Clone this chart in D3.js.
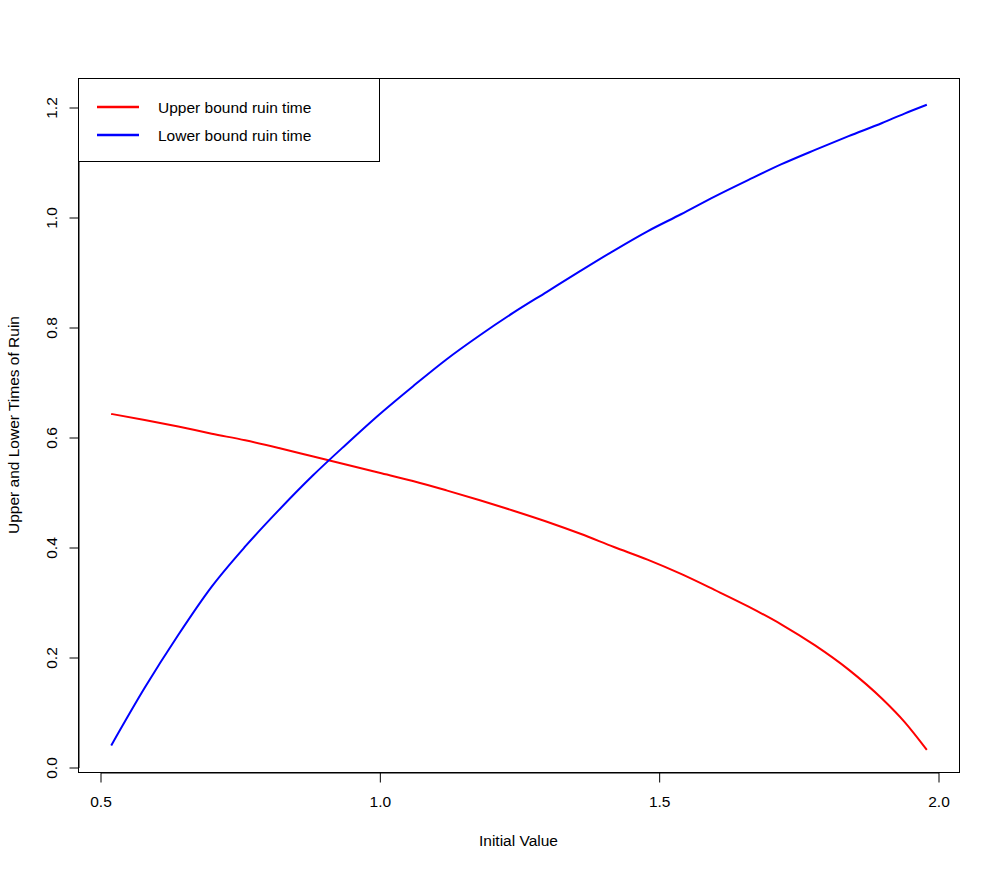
<!DOCTYPE html>
<html lang="en">
<head>
<meta charset="UTF-8">
<title>Upper and Lower Times of Ruin</title>
<script src="https://d3js.org/d3.v7.min.js"></script>
<style>
  body { margin: 0; background: #fff; }
  svg { display: block; font-family: "Liberation Sans", Arial, sans-serif; }
</style>
</head>
<body>
<svg width="1000" height="870"></svg>
<script>
  // initial values (x) and the two ruin time curves
  const initialValue = [0.52, 0.58, 0.64, 0.70, 0.76, 0.82, 0.88, 0.94, 1.00, 1.06, 1.12, 1.18, 1.24,
                        1.30, 1.36, 1.42, 1.48, 1.54, 1.60, 1.66, 1.72, 1.78, 1.84, 1.90, 1.94, 1.98];
  const upperRuin = [0.642, 0.631, 0.619, 0.606, 0.594, 0.580, 0.565, 0.550, 0.535, 0.520, 0.503, 0.485, 0.466,
                     0.446, 0.424, 0.400, 0.377, 0.351, 0.322, 0.292, 0.259, 0.221, 0.177, 0.124, 0.082, 0.031];
  const lowerRuin = [0.039, 0.144, 0.240, 0.328, 0.401, 0.467, 0.529, 0.586, 0.641, 0.692, 0.741, 0.785, 0.826,
                     0.864, 0.902, 0.939, 0.974, 1.005, 1.037, 1.067, 1.096, 1.122, 1.147, 1.171, 1.188, 1.204];

  const xTicks = [0.5, 1.0, 1.5, 2.0];
  const yTicks = [0.0, 0.2, 0.4, 0.6, 0.8, 1.0, 1.2];
  const legendLabels = ["Upper bound ruin time", "Lower bound ruin time"];
  const legendColors = ["#ff0000", "#0000ff"];

  const svg = d3.select("svg");
  const box = { left: 78, right: 959, top: 78, bottom: 772 };
  const fontSize = "15.5px";

  const x = d3.scaleLinear().domain([0.5, 2.0]).range([100, 938]);
  const y = d3.scaleLinear().domain([0.0, 1.2]).range([767, 107]);

  // plot frame
  svg.append("rect")
    .attr("x", box.left + 0.5).attr("y", box.top + 0.5)
    .attr("width", box.right - box.left).attr("height", box.bottom - box.top)
    .attr("fill", "none").attr("stroke", "#000").attr("stroke-width", 1);

  // x axis
  const gx = svg.append("g")
    .attr("transform", `translate(0.5,${box.bottom + 0.5})`)
    .call(d3.axisBottom(x).tickValues(xTicks).tickFormat(d3.format(".1f")).tickSize(10).tickSizeOuter(0));
  gx.selectAll("text").attr("y", 34).attr("dy", 0).attr("fill", "#000").style("font-size", fontSize);
  gx.selectAll("path, line").attr("stroke", "#000");
  gx.attr("font-family", null).attr("font-size", null);

  // y axis, labels rotated as in base R
  const gy = svg.append("g")
    .attr("transform", `translate(${box.left + 0.5},0.5)`)
    .call(d3.axisLeft(y).tickValues(yTicks).tickFormat(d3.format(".1f")).tickSize(9).tickSizeOuter(0));
  gy.selectAll("text")
    .attr("x", 0).attr("dy", 0)
    .attr("transform", "translate(-22,0) rotate(-90)")
    .attr("text-anchor", "middle")
    .attr("fill", "#000").style("font-size", fontSize);
  gy.selectAll("path, line").attr("stroke", "#000");
  gy.attr("font-family", null).attr("font-size", null);

  // axis titles
  svg.append("text")
    .attr("x", (box.left + box.right) / 2)
    .attr("y", 846)
    .attr("text-anchor", "middle")
    .style("font-size", fontSize)
    .text("Initial Value");

  svg.append("text")
    .attr("transform", `translate(19,${(box.top + box.bottom) / 2}) rotate(-90)`)
    .attr("text-anchor", "middle")
    .style("font-size", fontSize)
    .text("Upper and Lower Times of Ruin");

  // curves
  const series = [upperRuin, lowerRuin];
  const line = d3.line()
    .x(d => x(d[0]))
    .y(d => y(d[1]))
    .curve(d3.curveMonotoneX);

  series.forEach((vals, i) => {
    svg.append("path")
      .datum(initialValue.map((v, j) => [v, vals[j]]))
      .attr("d", line)
      .attr("fill", "none")
      .attr("stroke", legendColors[i])
      .attr("stroke-width", 2);
  });

  // legend
  const legend = svg.append("g");
  legend.append("rect")
    .attr("x", box.left + 0.5).attr("y", box.top + 0.5)
    .attr("width", 301).attr("height", 83)
    .attr("fill", "#fff").attr("stroke", "#000");

  legendLabels.forEach((lab, i) => {
    const ly = 107 + i * 28;
    legend.append("line")
      .attr("x1", 97).attr("x2", 139)
      .attr("y1", ly).attr("y2", ly)
      .attr("stroke", legendColors[i]).attr("stroke-width", 2.5);
    legend.append("text")
      .attr("x", 158).attr("y", ly + 5.5)
      .style("font-size", fontSize)
      .text(lab);
  });
</script>
</body>
</html>
